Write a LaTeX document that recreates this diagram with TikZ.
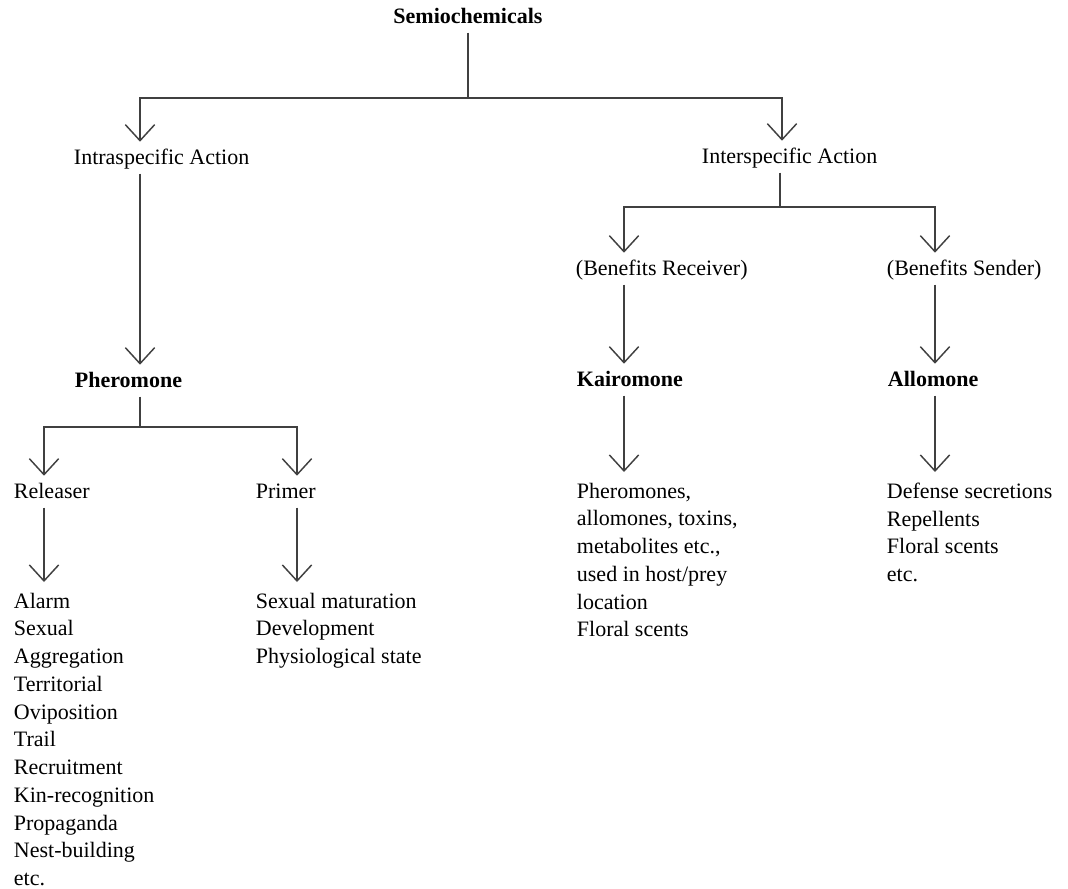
\documentclass[tikz,border=0pt]{standalone}
\usepackage{fontspec}
\setmainfont{Liberation Serif}
\usetikzlibrary{arrows.meta}

\newcommand{\diagfont}{\fontsize{16.5}{20.8}\selectfont}

\tikzset{
  lbl/.style={anchor=base west, inner sep=2pt, text height=14.5pt, text depth=5pt, font=\diagfont},
  head/.style={lbl, font=\diagfont\bfseries},
  lst/.style={anchor=north west, inner sep=2pt, align=left, font=\diagfont},
  link/.style={line width=1.1pt, draw=black!75},
  arr/.style={link, -{Straight Barb[length=12pt,width=22pt]}},
  arrl/.style={arr, shorten >=6pt},
}

\begin{document}
\begin{tikzpicture}[x=0.75pt,y=-0.75pt]

	\useasboundingbox (0,0) rectangle (1068,889);

	% columns of the connectors
	\coordinate (cA) at (140,0);
	\coordinate (cB) at (782,0);
	\coordinate (cC) at (44,0);
	\coordinate (cD) at (297,0);
	\coordinate (cE) at (624,0);
	\coordinate (cF) at (935,0);

	% junctions
	\coordinate (j1) at (468,98);
	\coordinate (j2) at (140,427);
	\coordinate (j3) at (780,207);

	% labels
	\node[head, anchor=base] (semio) at (468,23) {Semiochemicals};
	\node[lbl] (intra) at (71,164) {Intraspecific Action};
	\node[lbl] (inter) at (699,163) {Interspecific Action};

	\node[head] (phero) at (72,387) {Pheromone};
	\node[lbl] (releaser) at (11,498) {Releaser};
	\node[lbl] (primer) at (253,498) {Primer};

	\node[lbl] (receiver) at (573,275) {(Benefits Receiver)};
	\node[lbl] (sender) at (884,275) {(Benefits Sender)};
	\node[head] (kairo) at (574,386) {Kairomone};
	\node[head] (allo) at (885,386) {Allomone};

	\node[lst] (rellist) at (11,590) {Alarm\\ Sexual\\ Aggregation\\ Territorial\\ Oviposition\\ Trail\\ Recruitment\\ Kin-recognition\\ Propaganda\\ Nest-building\\ etc.};
	\node[lst] (primlist) at (253,590) {Sexual maturation\\ Development\\ Physiological state};
	\node[lst] (kairlist) at (574,480) {Pheromones,\\ allomones, toxins,\\ metabolites etc.,\\ used in host/prey\\ location\\ Floral scents};
	\node[lst] (allolist) at (884,480) {Defense secretions\\ Repellents\\ Floral scents\\ etc.};

	% top split
	\draw[link] (semio.south) -- (j1);
	\draw[arr] (j1) -| (intra.north -| cA);
	\draw[arr] (j1) -| (inter.north -| cB);

	% intraspecific branch
	\draw[arr] (intra.south -| cA) -- (phero.north -| cA);
	\draw[link] (phero.south -| cA) -- (j2);
	\draw[arr] (j2) -| (releaser.north -| cC);
	\draw[arr] (j2) -| (primer.north -| cD);
	\draw[arrl] (releaser.south -| cC) -- (rellist.north -| cC);
	\draw[arrl] (primer.south -| cD) -- (primlist.north -| cD);

	% interspecific branch
	\draw[link] (inter.south -| j3) -- (j3);
	\draw[arr] (j3) -| (receiver.north -| cE);
	\draw[arr] (j3) -| (sender.north -| cF);
	\draw[arr] (receiver.south -| cE) -- (kairo.north -| cE);
	\draw[arr] (sender.south -| cF) -- (allo.north -| cF);
	\draw[arrl] (kairo.south -| cE) -- (kairlist.north -| cE);
	\draw[arrl] (allo.south -| cF) -- (allolist.north -| cF);

\end{tikzpicture}
\end{document}
